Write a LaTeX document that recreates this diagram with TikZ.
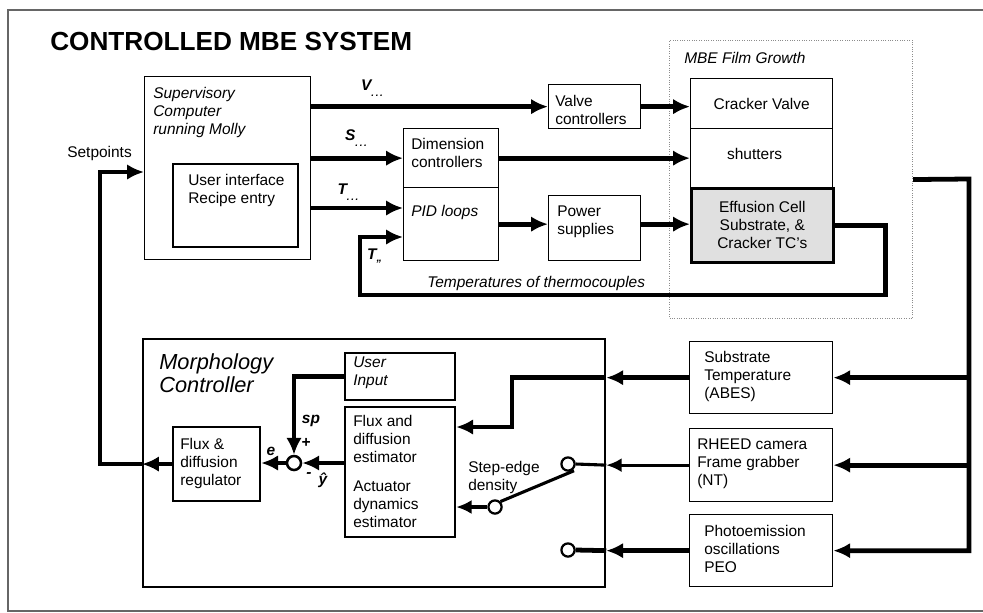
\documentclass[tikz,border=0pt]{standalone}
\usepackage{fontspec}
\setsansfont{Liberation Sans}
\usetikzlibrary{positioning,calc,arrows.meta}

\begin{document}
\begin{tikzpicture}[x=0.025cm, y=-0.025cm, font=\sffamily\fontsize{11}{12.8}\selectfont]
\tikzset{
  blk/.style={draw=black, line width=0.9pt, fill=white, inner sep=0pt, anchor=north west},
  blkb/.style={blk, line width=1.5pt},
  grp/.style={draw=black!45, densely dotted, line width=0.7pt, inner sep=0pt, anchor=north west},
  txt/.style={anchor=north west, inner sep=0pt, align=left},
  itx/.style={txt, font=\sffamily\itshape\fontsize{11}{12.8}\selectfont},
  sig/.style={inner sep=0pt, font=\sffamily\bfseries\itshape\fontsize{11}{12.8}\selectfont},
  flow/.style={line width=3.4pt, -{Latex[length=12pt,width=11pt]}},
  flowthin/.style={line width=2.2pt, -{Latex[length=11pt,width=10pt]}},
  wire/.style={line width=3.4pt},
  wirethin/.style={line width=2.2pt},
  contact/.style={circle, draw=black, fill=white, line width=1.6pt, minimum size=0.33cm, inner sep=0pt},
  sumc/.style={circle, draw=black, fill=white, line width=1.8pt, minimum size=0.35cm, inner sep=0pt}
}
\newcommand{\dotsub}{\raisebox{-4pt}{\scriptsize .\,.\,.}}
\useasboundingbox (0,0) rectangle (983,612);
\draw[black!60, line width=0.8pt] (983,10) -- (8,10) -- (8,611) -- (983,611);

\node[anchor=west, inner sep=0pt, font=\sffamily\bfseries\fontsize{18.6}{22}\selectfont] (title) at (50,41) {CONTROLLED MBE SYSTEM};

% supervisory computer
\node[blk, minimum width=4.15cm, minimum height=4.575cm] (sup) at (144,76) {};
\node[itx] (supt) at ($(sup.north west)+(9,11)$) {Supervisory\\Computer\\running Molly};
\node[blkb, minimum width=3.125cm, minimum height=2.075cm] (ui) at (172,163) {};
\node[txt] (uit) at ($(ui.north west)+(16,11)$) {User interface\\Recipe entry};
\node[txt] (setp) at (67,146) {Setpoints};

% controllers
\node[blk, minimum width=2.3cm, minimum height=1.1cm] (valve) at (548,84) {};
\node[txt] (valvet) at ($(valve.north west)+(7,11)$) {Valve\\controllers};
\node[blk, minimum width=2.375cm, minimum height=1.475cm] (dim) at (403,128) {};
\node[txt] (dimt) at ($(dim.north west)+(8,10)$) {Dimension\\controllers};
\node[blk, minimum width=2.375cm, minimum height=1.825cm] (pid) at (403,187) {};
\node[itx] (pidt) at ($(pid.north west)+(8,18)$) {PID loops};
\node[blk, minimum width=2.3cm, minimum height=1.625cm] (power) at (548,195) {};
\node[txt] (powert) at ($(power.north west)+(9,11)$) {Power\\supplies};

% MBE film growth
\node[grp, minimum width=6.075cm, minimum height=6.95cm] (mbe) at (669,40) {};
\node[itx] (mbet) at ($(mbe.north west)+(15,12)$) {MBE Film Growth};
\node[blk, minimum width=3.55cm, minimum height=1.25cm] (cracker) at (690,78) {};
\node[inner sep=0pt] (crackt) at (cracker.center) {Cracker Valve};
\node[blk, minimum width=3.55cm, minimum height=1.475cm] (shut) at (690,128) {};
\node[inner sep=0pt] (shutt) at ($(shut.center)+(-7,-4)$) {shutters};
\node[blk, line width=1.8pt, fill=black!12, minimum width=3.55cm, minimum height=1.85cm] (eff) at (690,187) {};
\node[inner sep=0pt, align=center] (efft) at (eff.center) {Effusion Cell\\Substrate, \&\\Cracker TC's};

\node[sig] (vlab) at (372,88) {V\dotsub};
\node[sig] (slab) at (356,138) {S\dotsub};
\node[sig] (tlab) at (348,192) {T\dotsub};
\node[sig] (tclab) at (375,256) {T\textsubscript{,,}};
\node[itx] (tct) at (427,276) {Temperatures of thermocouples};

\coordinate (tlev) at (0,208);
\coordinate (tcc) at (360,295);
\coordinate (tcin) at ($(pid.north west)+(0,50)$);
\draw[flow] (sup.east |- valve.west) -- (valve.west);
\draw[flow] (valve.east) -- (valve.east -| cracker.west);
\draw[flow] (sup.east |- dim.west) -- (dim.west);
\draw[flow] (dim.east) -- (dim.east -| shut.west);
\draw[flow] (sup.east |- tlev) -- (pid.west |- tlev);
\draw[flow] (pid.east) -- (pid.east -| power.west);
\draw[flow] (pid.east -| power.east) -- (pid.east -| eff.west);
\draw[flow] (eff.east) -- ++(51,0) |- (tcc) |- (tcin);

% morphology controller
\node[blkb, minimum width=11.55cm, minimum height=6.2cm] (morph) at (142,338) {};
\node[txt, font=\sffamily\itshape\fontsize{15.5}{16.5}\selectfont] (morpht) at ($(morph.north west)+(17,15)$) {Morphology\\Controller};
\node[blkb, minimum width=2.75cm, minimum height=1.175cm] (uin) at (344,352) {};
\node[itx] (uint) at ($(uin.north west)+(9,5)$) {User\\Input};
\node[blkb, minimum width=2.75cm, minimum height=3.25cm] (est) at (344,406) {};
\node[txt] (estt1) at ($(est.north west)+(9,9)$) {Flux and\\diffusion\\estimator};
\node[txt] (estt2) at ($(est.north west)+(9,75)$) {Actuator\\dynamics\\estimator};
\node[blkb, minimum width=2.175cm, minimum height=1.85cm] (reg) at (172,426) {};
\node[txt] (regt) at ($(reg.north west)+(8,12)$) {Flux \&\\diffusion\\regulator};
\node[sumc] (sum) at (294,463) {};
\node[sig] (splab) at (311,421) {sp};
\node[sig] (plus) at (306,443) {+};
\node[sig] (elab) at (271,451) {e};
\node[sig] (minus) at (309,475) {-};
\node[sig] (yhat) at (323,480) {\^{y}};
\node[txt] (stept) at (468,461) {Step-edge\\density};
\node[contact] (sw1) at (568,464) {};
\node[contact] (sw2) at (568,550) {};
\node[contact] (swc) at (495,507) {};

% sensors
\node[blk, minimum width=3.575cm, minimum height=1.8cm] (subt) at (689,341) {};
\node[txt] (subtt) at ($(subt.north west)+(15,10)$) {Substrate\\Temperature\\(ABES)};
\node[blk, minimum width=3.575cm, minimum height=1.825cm] (rheed) at (689,428) {};
\node[txt] (rheedt) at ($(rheed.north west)+(8,11)$) {RHEED camera\\Frame grabber\\(NT)};
\node[blk, minimum width=3.575cm, minimum height=1.8cm] (peo) at (689,514) {};
\node[txt] (peot) at ($(peo.north west)+(15,11)$) {Photoemission\\oscillations\\PEO};

\coordinate (bus) at (969,179);
\coordinate (spc) at (100,172);
\coordinate (sbend) at (512,0);
\coordinate (estin) at ($(est.north east)+(0,21)$);
\draw[flow] (mbe.east) -- (bus) |- (peo.east);
\draw[flow] (bus |- subt.east) -- (subt.east);
\draw[flow] (bus |- rheed.east) -- (rheed.east);
\draw[flow] (subt.west) -- (subt.west -| morph.east);
\draw[flow] (subt.west -| morph.east) -- (sbend |- subt.west) |- (estin);
\draw[flowthin] (rheed.west) -- (rheed.west -| morph.east);
\draw[wirethin] (rheed.west -| morph.east) -- (sw1.east);
\draw[flow] (peo.west) -- (peo.west -| morph.east);
\draw[wire] (peo.west -| morph.east) -- (sw2.east);
\draw[wirethin] (swc.north east) -- ($(sw1.south)+(6,-1)$);
\draw[flowthin] (swc.west) -- (swc.west -| est.east);
\draw[flow] (uin.west) -| (sum.north);
\draw[flow] (est.west |- sum.east) -- (sum.east);
\draw[flow] (sum.west) -- (sum.west -| reg.east);
\draw[flow] (reg.west) -- (reg.west -| morph.west);
\draw[flow] (reg.west -| morph.west) -- (reg.west -| spc) -- (spc) -- (spc -| sup.west);
\end{tikzpicture}
\end{document}
